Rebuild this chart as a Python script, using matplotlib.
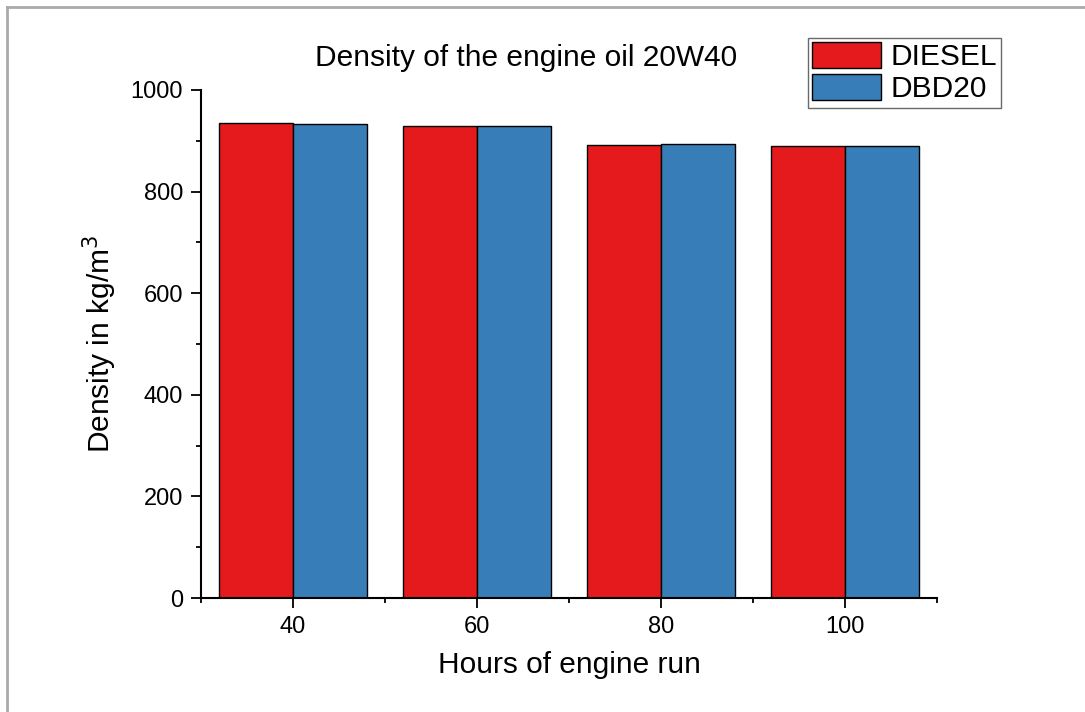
import matplotlib
matplotlib.use("Agg")
import matplotlib.pyplot as plt
from matplotlib.lines import Line2D
from matplotlib.ticker import MultipleLocator

plt.rcParams["font.family"] = ["Liberation Sans", "DejaVu Sans"]

hours = [40, 60, 80, 100]
diesel = [935, 929, 891, 890]
dbd20 = [933, 929, 894, 890]
series_names = ["DIESEL", "DBD20"]
colors = ["#E41A1C", "#377EB8"]

fig = plt.figure(figsize=(10.85, 7.12), dpi=100)
ax = fig.add_axes([0.1853, 0.1601, 0.6783, 0.7135])

width = 8
ax.bar([h - width / 2 for h in hours], diesel, width, color=colors[0],
       edgecolor="black", linewidth=1, label=series_names[0])
ax.bar([h + width / 2 for h in hours], dbd20, width, color=colors[1],
       edgecolor="black", linewidth=1, label=series_names[1])

ax.set_xlim(30, 110)
ax.set_ylim(0, 1000)
ax.set_xticks(hours)
ax.xaxis.set_minor_locator(MultipleLocator(20, offset=10))
ax.yaxis.set_major_locator(MultipleLocator(200))
ax.yaxis.set_minor_locator(MultipleLocator(100))
ax.tick_params(which="major", length=7, width=1.3, labelsize=17, pad=6)
ax.tick_params(which="minor", length=3.5, width=1.3)
for s in ["top", "right"]:
    ax.spines[s].set_visible(False)
for s in ["left", "bottom"]:
    ax.spines[s].set_linewidth(1.5)

ax.set_xlabel("Hours of engine run", fontsize=21.5, labelpad=9)
ax.set_ylabel("Density in kg/m$^3$", fontsize=21.5, labelpad=8)
fig.text(0.485, 0.918, "Density of the engine oil 20W40", fontsize=21.5,
         ha="center", va="center")

leg = ax.legend(loc="upper right", bbox_to_anchor=(0.9226, 0.947),
                bbox_transform=fig.transFigure, fontsize=21.5, frameon=True,
                fancybox=False, handlelength=2.3, handleheight=0.95,
                labelspacing=0.1, borderpad=0.15, handletextpad=0.3,
                borderaxespad=0)
leg.get_frame().set_edgecolor("#444444")
leg.get_frame().set_linewidth(1)

# grey page border on the left and top
fig.add_artist(Line2D([7 / 1085, 7 / 1085], [0, 1 - 7 / 712], color="#aaaaaa",
                      linewidth=2, transform=fig.transFigure))
fig.add_artist(Line2D([7 / 1085, 1], [1 - 7 / 712, 1 - 7 / 712], color="#aaaaaa",
                      linewidth=2, transform=fig.transFigure))

fig.savefig("out.png", dpi=100)
